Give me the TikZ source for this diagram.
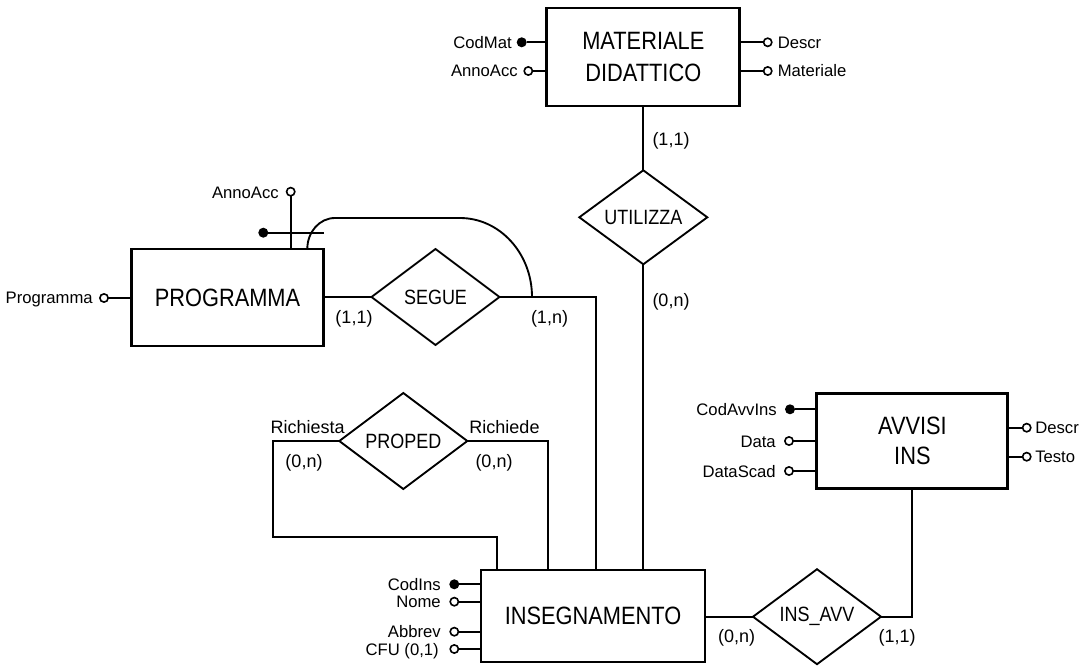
\documentclass[tikz,border=0pt]{standalone}
\usepackage{fontspec}
\setmainfont{Liberation Sans}
\newfontfamily\condfont[FakeStretch=0.87]{Liberation Sans}
\usetikzlibrary{shapes.geometric,calc}
\begin{document}
\begin{tikzpicture}[x=0.75pt,y=-0.75pt,
  entity/.style={draw, line width=2.2pt, rectangle, inner sep=0pt, outer sep=0pt, align=center,
    font=\condfont\fontsize{18.8}{24.5}\selectfont},
  rel/.style={draw, line width=1.4pt, diamond, inner sep=0pt, outer sep=0pt,
    minimum width=96pt, minimum height=72pt, font=\condfont\fontsize{15.5}{17}\selectfont},
  conn/.style={line width=1.4pt},
  keydot/.style={circle, fill=black, inner sep=0pt, outer sep=0pt, minimum size=7.5pt},
  attdot/.style={circle, draw=black, fill=white, line width=1.2pt, inner sep=0pt, outer sep=0pt, minimum size=6.2pt},
  lab/.style={inner sep=0pt, font=\fontsize{12.5}{14}\selectfont, text height=9pt, text depth=0pt},
  card/.style={inner sep=0pt, font=\fontsize{13.5}{16}\selectfont, text height=9.7pt, text depth=0pt}
]
\useasboundingbox (0,0) rectangle (1091,666);

% entities
\node[entity, minimum width=144.75pt, minimum height=73.5pt] (MAT) at (643.3,57) {MATERIALE\\DIDATTICO};
\node[entity, minimum width=144pt, minimum height=72.75pt] (PROG) at (227.5,297.5) {PROGRAMMA};
\node[entity, minimum width=168pt, minimum height=69pt] (INS) at (593,616) {INSEGNAMENTO};
\node[entity, minimum width=143.25pt, minimum height=71.6pt, font=\condfont\fontsize{18.8}{22.5}\selectfont] (AVV) at (912.4,441) {AVVISI\\INS};

% relationships
\node[rel, minimum height=70.5pt] (UTIL) at (643.3,217.3) {UTILIZZA};
\node[rel] (SEGUE) at (435.5,297) {SEGUE};
\node[rel] (PROPED) at (403.3,441) {PROPED};
\node[rel, minimum height=71.25pt] (INSAVV) at (817,616.7) {INS\_AVV};

% connectors
\draw[conn] (MAT.south) -- (UTIL.north);
\draw[conn] (UTIL.south) -- (UTIL.south |- INS.north);
\draw[conn] (SEGUE.west -| PROG.east) -- (SEGUE.west);
\coordinate (sx) at (596,0);
\draw[conn] (SEGUE.east) -| (sx |- INS.north);
\coordinate (pl) at (272.7,536.7);
\coordinate (pd) at (497.3,0);
\draw[conn] (PROPED.west) -| (pl) -| (pd |- INS.north);
\coordinate (pr) at (547.7,0);
\draw[conn] (PROPED.east) -| (pr |- INS.north);
\draw[conn] (INSAVV.west -| INS.east) -- (INSAVV.west);
\draw[conn] (INSAVV.east) -| (AVV.south);

% external identifier curve of PROGRAMMA
\coordinate (cs) at (307.3,249);
\coordinate (ce) at (532,297);
\draw[conn] (cs) .. controls (307.3,231.9) and (319.5,218) .. (335,218) -- (460,218)
  .. controls (499.7,218) and (532,253.4) .. (ce);

% cardinalities
\node[card] (c1) at (671,139.3) {(1,1)};
\node[card] (c2) at (671,300) {(0,n)};
\node[card] (c3) at (354,317) {(1,1)};
\node[card] (c4) at (549.5,317) {(1,n)};
\node[card] (r1) at (307.7,426.7) {Richiesta};
\node[card] (c5) at (304,461) {(0,n)};
\node[card] (r2) at (504.5,426.7) {Richiede};
\node[card] (c6) at (494,461) {(0,n)};
\node[card] (c7) at (736.7,636) {(0,n)};
\node[card] (c8) at (897,636) {(1,1)};

% MATERIALE DIDATTICO attributes
\node[keydot] (mk) at (521.7,42.3) {};
\draw[conn] (mk) -- (mk -| MAT.west);
\node[lab, anchor=east] (mkl) at (512,42.3) {CodMat};
\node[attdot] (ma) at (528.3,71) {};
\draw[conn] (ma) -- (ma -| MAT.west);
\node[lab, anchor=east] (mal) at (518,71) {AnnoAcc};
\node[attdot] (md) at (767.7,42.3) {};
\draw[conn] (md) -- (md -| MAT.east);
\node[lab, anchor=west] (mdl) at (777.5,42.3) {Descr};
\node[attdot] (mm) at (767.7,71) {};
\draw[conn] (mm) -- (mm -| MAT.east);
\node[lab, anchor=west] (mml) at (777.5,71) {Materiale};

% PROGRAMMA attributes
\node[attdot] (pp) at (104,298) {};
\draw[conn] (pp) -- (pp -| PROG.west);
\node[lab, anchor=east] (ppl) at (93,298) {Programma};
\node[attdot] (pa) at (290.7,191.7) {};
\draw[conn] (pa) -- (pa |- PROG.north);
\node[lab, anchor=east] (pal) at (279,193) {AnnoAcc};
\node[keydot] (pk) at (263.3,232.7) {};
\coordinate (pke) at (324,232.7);
\draw[conn] (pk) -- (pke);

% INSEGNAMENTO attributes
\node[keydot] (ik) at (454.3,584.3) {};
\draw[conn] (ik) -- (ik -| INS.west);
\node[lab, anchor=east] (ikl) at (441,584.3) {CodIns};
\node[attdot] (in) at (454.3,601.7) {};
\draw[conn] (in) -- (in -| INS.west);
\node[lab, anchor=east] (inl) at (441,601.7) {Nome};
\node[attdot] (ia) at (454.3,631.7) {};
\draw[conn] (ia) -- (ia -| INS.west);
\node[lab, anchor=east] (ial) at (441,631.7) {Abbrev};
\node[attdot] (ic) at (454.3,649) {};
\draw[conn] (ic) -- (ic -| INS.west);
\node[lab, anchor=east] (icl) at (439,649) {CFU (0,1)};

% AVVISI INS attributes
\node[keydot] (ak) at (790,409.3) {};
\draw[conn] (ak) -- (ak -| AVV.west);
\node[lab, anchor=east] (akl) at (777,409.3) {CodAvvIns};
\node[attdot] (ad) at (789,441) {};
\draw[conn] (ad) -- (ad -| AVV.west);
\node[lab, anchor=east] (adl) at (776,441) {Data};
\node[attdot] (as) at (789,471) {};
\draw[conn] (as) -- (as -| AVV.west);
\node[lab, anchor=east] (asl) at (776,471) {DataScad};
\node[attdot] (ae) at (1026.7,427.7) {};
\draw[conn] (ae) -- (ae -| AVV.east);
\node[lab, anchor=west] (ael) at (1035,427.7) {Descr};
\node[attdot] (at) at (1026.7,456.7) {};
\draw[conn] (at) -- (at -| AVV.east);
\node[lab, anchor=west] (atl) at (1035,456.7) {Testo};
\end{tikzpicture}
\end{document}
